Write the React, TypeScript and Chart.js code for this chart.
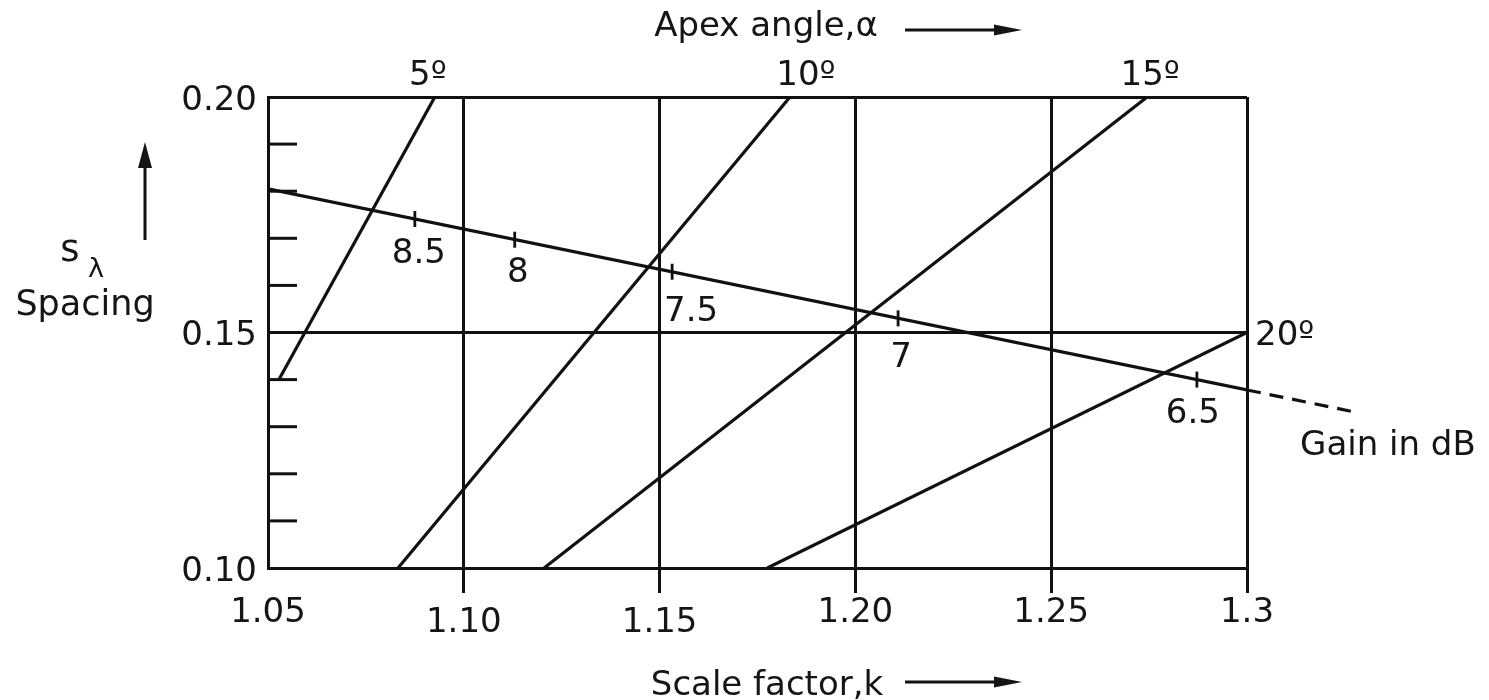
import React, { useEffect, useRef } from 'react';
import { Chart, registerables } from 'chart.js';

Chart.register(...registerables);

// ---- axis ticks ----
const xTicks = [1.05, 1.1, 1.15, 1.2, 1.25, 1.3];
const xTickLabels = ['1.05', '1.10', '1.15', '1.20', '1.25', '1.3'];
const xLoweredLabels = ['1.10', '1.15'];
const yTicks = [0.1, 0.15, 0.2];
const yTickLabels = ['0.10', '0.15', '0.20'];
const yMinorTicks = [0.11, 0.12, 0.13, 0.14, 0.16, 0.17, 0.18, 0.19];

// ---- apex angle lines (scale factor k, spacing) ----
const apex5 = [{ x: 1.0528, y: 0.14 }, { x: 1.0926, y: 0.2 }];
const apex10 = [{ x: 1.0832, y: 0.1 }, { x: 1.1833, y: 0.2 }];
const apex15 = [{ x: 1.1205, y: 0.1 }, { x: 1.2745, y: 0.2 }];
const apex20 = [{ x: 1.1775, y: 0.1 }, { x: 1.3, y: 0.15 }];
const apexLabels = ['5º', '10º', '15º', '20º'];

// ---- gain line ----
const gainLine = [{ x: 1.05, y: 0.1805 }, { x: 1.3, y: 0.1378 }];
const gainExtension = [{ x: 1.3, y: 0.1378 }, { x: 1.3276, y: 0.1331 }];
const gainMarkX = [1.0875, 1.113, 1.1532, 1.2109, 1.2872];
const gainMarkY = [0.1741, 0.1697, 0.1629, 0.153, 0.14];
const gainMarkLabels = ['8.5', '8', '7.5', '7', '6.5'];

const xTitle = 'Scale factor,k';
const topTitle = 'Apex angle,α';
const yTitle = 'Spacing';
const gainTitle = 'Gain in dB';

const INK = '#111111';
const TEXT = '#151515';
const FAMILY = "'DejaVu Sans', sans-serif";
const FS = 34;

function arrowRight(ctx: CanvasRenderingContext2D, x1: number, x2: number, y: number) {
  const head = 28;
  ctx.beginPath();
  ctx.moveTo(x1, y);
  ctx.lineTo(x2 - head + 2, y);
  ctx.stroke();
  ctx.beginPath();
  ctx.moveTo(x2, y);
  ctx.lineTo(x2 - head, y - 5.5);
  ctx.lineTo(x2 - head, y + 5.5);
  ctx.closePath();
  ctx.fill();
}

function arrowUp(ctx: CanvasRenderingContext2D, x: number, y1: number, y2: number) {
  const head = 26;
  ctx.beginPath();
  ctx.moveTo(x, y1);
  ctx.lineTo(x, y2 + head - 2);
  ctx.stroke();
  ctx.beginPath();
  ctx.moveTo(x, y2);
  ctx.lineTo(x - 7, y2 + head);
  ctx.lineTo(x + 7, y2 + head);
  ctx.closePath();
  ctx.fill();
}

const decorPlugin = {
  id: 'decor',
  beforeDatasetsDraw(chart: any) {
    const ctx = chart.ctx as CanvasRenderingContext2D;
    const xs = chart.scales.x;
    const ys = chart.scales.y;
    ctx.save();
    ctx.strokeStyle = INK;
    ctx.lineWidth = 3;
    yMinorTicks.forEach((v) => {
      const py = ys.getPixelForValue(v);
      ctx.beginPath();
      ctx.moveTo(xs.left, py);
      ctx.lineTo(xs.left + 29, py);
      ctx.stroke();
    });
    ctx.restore();
  },
  afterDatasetsDraw(chart: any) {
    const ctx = chart.ctx as CanvasRenderingContext2D;
    ctx.save();
    ctx.fillStyle = TEXT;
    ctx.strokeStyle = INK;
    ctx.lineWidth = 3;
    ctx.textBaseline = 'middle';
    ctx.font = `${FS}px ${FAMILY}`;

    // apex angle labels at the end of each line
    const apexOffsets: [number, number, CanvasTextAlign][] = [
      [-7, -21, 'center'],
      [16, -21, 'center'],
      [3, -21, 'center'],
      [8, 4, 'left'],
    ];
    for (let i = 0; i < 4; i++) {
      const meta = chart.getDatasetMeta(i);
      const pt = meta.data[meta.data.length - 1];
      ctx.textAlign = apexOffsets[i][2];
      ctx.fillText(apexLabels[i], pt.x + apexOffsets[i][0], pt.y + apexOffsets[i][1]);
    }

    // gain values under the tick marks
    const markMeta = chart.getDatasetMeta(6);
    const gOff = [[4, 35], [3, 33], [19, 40], [3, 40], [-4, 35]];
    ctx.textAlign = 'center';
    markMeta.data.forEach((pt: any, i: number) => {
      ctx.fillText(gainMarkLabels[i], pt.x + gOff[i][0], pt.y + gOff[i][1]);
    });

    // "Gain in dB"
    const extMeta = chart.getDatasetMeta(5);
    const endPt = extMeta.data[extMeta.data.length - 1];
    ctx.textAlign = 'left';
    ctx.fillText(gainTitle, endPt.x - 55, endPt.y + 34);

    // top title + arrow
    ctx.textAlign = 'center';
    ctx.fillText(topTitle, 766, 27);
    arrowRight(ctx, 905, 1022, 30);

    // bottom title + arrow
    ctx.fillText(xTitle, 767, 686);
    arrowRight(ctx, 905, 1022, 682);

    // left: s_lambda, Spacing, up arrow
    ctx.font = `35px ${FAMILY}`;
    ctx.fillText(yTitle, 85, 306);
    ctx.font = `37px ${FAMILY}`;
    ctx.fillText('s', 70, 251);
    ctx.font = `27px ${FAMILY}`;
    ctx.fillText('λ', 96, 270);
    arrowUp(ctx, 145, 240, 142);

    ctx.restore();
  },
};

export default function App() {
  const canvasRef = useRef<HTMLCanvasElement | null>(null);

  useEffect(() => {
    const canvas = canvasRef.current;
    if (!canvas) return;

    const lineDs = (data: { x: number; y: number }[]) => ({
      data,
      showLine: true,
      borderColor: INK,
      borderWidth: 3.2,
      pointRadius: 0,
      pointHoverRadius: 0,
      fill: false,
    });

    const chart = new Chart(canvas, {
      type: 'scatter',
      data: {
        datasets: [
          lineDs(apex5),
          lineDs(apex10),
          lineDs(apex15),
          lineDs(apex20),
          lineDs(gainLine),
          { ...lineDs(gainExtension), borderDash: [14, 9], clip: false },
          {
            data: gainMarkX.map((x, i) => ({ x, y: gainMarkY[i] })),
            showLine: false,
            pointStyle: 'line',
            rotation: 90,
            pointRadius: 8,
            pointBorderWidth: 2.8,
            pointBorderColor: INK,
            pointBackgroundColor: INK,
          },
        ] as any,
      },
      options: {
        responsive: false,
        animation: false,
        devicePixelRatio: 1,
        layout: {
          autoPadding: false,
          padding: { left: 0, right: 242, top: 97, bottom: 0 },
        } as any,
        plugins: {
          legend: { display: false },
          tooltip: { enabled: false },
          title: { display: false },
        },
        scales: {
          x: {
            type: 'linear',
            min: 1.05,
            max: 1.3,
            afterBuildTicks: (s: any) => {
              s.ticks = xTicks.map((v) => ({ value: v }));
            },
            afterFit: (s: any) => {
              s.height = 132;
              s.paddingLeft = 0;
              s.paddingRight = 0;
            },
            border: { display: true, color: INK, width: 3 },
            grid: {
              color: INK,
              lineWidth: 3,
              drawTicks: true,
              tickLength: 25,
              tickWidth: 3,
              tickColor: (c: any) => (c.index === 0 ? 'rgba(0,0,0,0)' : INK),
            },
            ticks: {
              color: TEXT,
              padding: 0,
              maxRotation: 0,
              autoSkip: false,
              font: (c: any) => {
                const lbl = xTickLabels[c.index];
                return {
                  family: FAMILY,
                  size: FS,
                  lineHeight: xLoweredLabels.includes(lbl) ? 1.76 : 1.17,
                };
              },
              callback: (_v: any, i: number) => xTickLabels[i],
            },
          },
          y: {
            type: 'linear',
            min: 0.1,
            max: 0.2,
            afterBuildTicks: (s: any) => {
              s.ticks = yTicks.map((v) => ({ value: v }));
            },
            afterFit: (s: any) => {
              s.width = 268;
              s.paddingTop = 0;
              s.paddingBottom = 0;
            },
            border: { display: true, color: INK, width: 3 },
            grid: {
              color: INK,
              lineWidth: 3,
              drawTicks: false,
            },
            ticks: {
              color: TEXT,
              padding: 11,
              labelOffset: 4,
              font: { family: FAMILY, size: FS },
              callback: (_v: any, i: number) => yTickLabels[i],
            },
          },
        },
      } as any,
      plugins: [decorPlugin],
    });

    return () => {
      chart.destroy();
    };
  }, []);

  return (
    <div
      style={{
        position: 'absolute',
        left: 0,
        top: 0,
        width: 1489,
        height: 700,
        background: '#ffffff',
      }}
    >
      <canvas ref={canvasRef} width={1489} height={700} style={{ display: 'block' }} />
    </div>
  );
}
